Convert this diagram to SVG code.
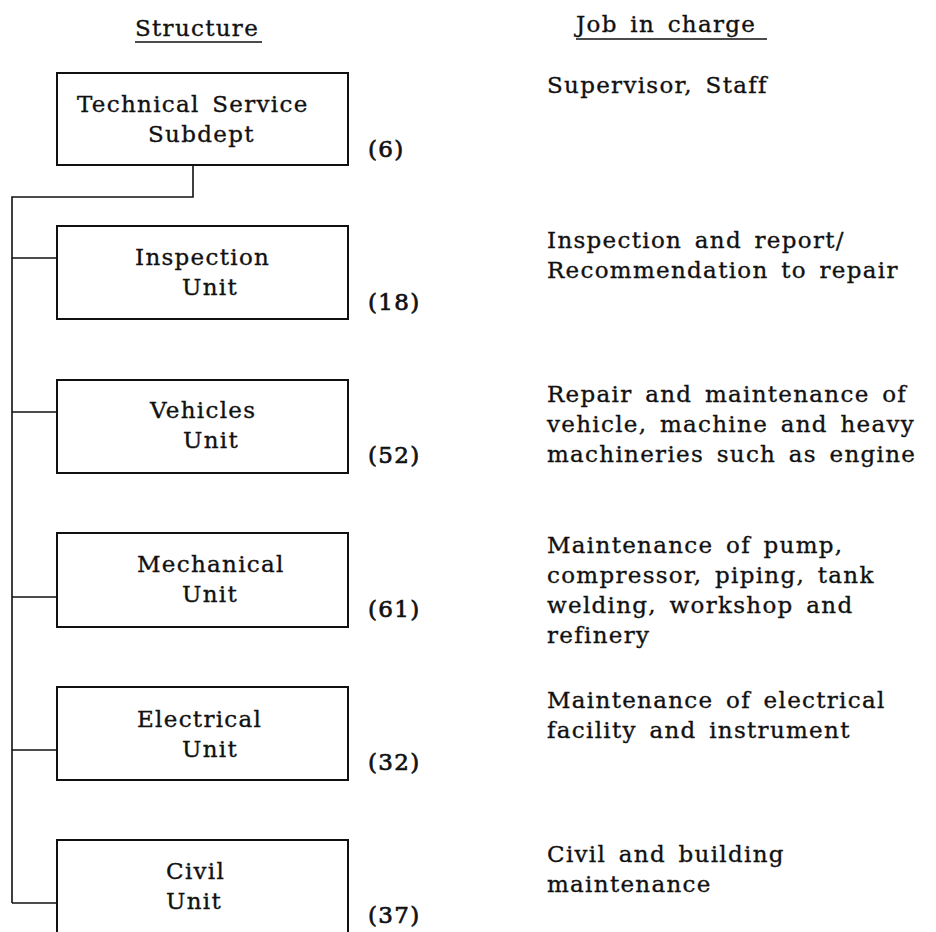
<svg xmlns="http://www.w3.org/2000/svg" width="936" height="932" viewBox="0 0 936 932">
<style>
text{font-family:"DejaVu Serif","Liberation Serif",serif;font-size:23px;fill:#111;stroke:#111;stroke-width:0.35;letter-spacing:1.3px;word-spacing:4px}
.box{fill:none;stroke:#111;stroke-width:2}
.ln{fill:none;stroke:#111;stroke-width:1.6}
.num{stroke-width:0.7}
</style>
<rect width="936" height="932" fill="#fff"/>
<g id="headers">
<text x="135" y="36">Structure</text>
<line class="ln" x1="135" y1="42" x2="262" y2="42"/>
<text x="576" y="32">Job in charge</text>
<line class="ln" x1="576" y1="39" x2="767" y2="39"/>
</g>
<g id="connectors">
<polyline class="ln" points="193,165 193,197 12,197 12,903"/>
<line class="ln" x1="12" y1="258" x2="57" y2="258"/>
<line class="ln" x1="12" y1="412" x2="57" y2="412"/>
<line class="ln" x1="12" y1="597" x2="57" y2="597"/>
<line class="ln" x1="12" y1="750" x2="57" y2="750"/>
<line class="ln" x1="12" y1="903" x2="57" y2="903"/>
</g>
<g id="subdept">
<rect class="box" x="57" y="73" width="291" height="92"/>
<text x="77" y="112">Technical Service</text>
<text x="148" y="142">Subdept</text>
<text class="num" x="368" y="157">(6)</text>
<text x="547" y="93">Supervisor, Staff</text>
</g>
<g id="inspection">
<rect class="box" x="57" y="226" width="291" height="93"/>
<text x="135" y="265">Inspection</text>
<text x="182" y="295">Unit</text>
<text class="num" x="368" y="310">(18)</text>
<text x="547" y="248">Inspection and report/</text>
<text x="547" y="278">Recommendation to repair</text>
</g>
<g id="vehicles">
<rect class="box" x="57" y="380" width="291" height="93"/>
<text x="150" y="418">Vehicles</text>
<text x="183" y="448">Unit</text>
<text class="num" x="368" y="463">(52)</text>
<text x="547" y="402">Repair and maintenance of</text>
<text x="547" y="432">vehicle, machine and heavy</text>
<text x="547" y="462">machineries such as engine</text>
</g>
<g id="mechanical">
<rect class="box" x="57" y="533" width="291" height="94"/>
<text x="137" y="572">Mechanical</text>
<text x="182" y="602">Unit</text>
<text class="num" x="368" y="617">(61)</text>
<text x="547" y="553">Maintenance of pump,</text>
<text x="547" y="583">compressor, piping, tank</text>
<text x="547" y="613">welding, workshop and</text>
<text x="547" y="643">refinery</text>
</g>
<g id="electrical">
<rect class="box" x="57" y="687" width="291" height="93"/>
<text x="137" y="727">Electrical</text>
<text x="182" y="757">Unit</text>
<text class="num" x="368" y="770">(32)</text>
<text x="547" y="708">Maintenance of electrical</text>
<text x="547" y="738">facility and instrument</text>
</g>
<g id="civil">
<polyline class="box" points="57,934 57,840 348,840 348,934"/>
<text x="166" y="879">Civil</text>
<text x="166" y="909">Unit</text>
<text class="num" x="368" y="923">(37)</text>
<text x="547" y="862">Civil and building</text>
<text x="547" y="892">maintenance</text>
</g>
</svg>
